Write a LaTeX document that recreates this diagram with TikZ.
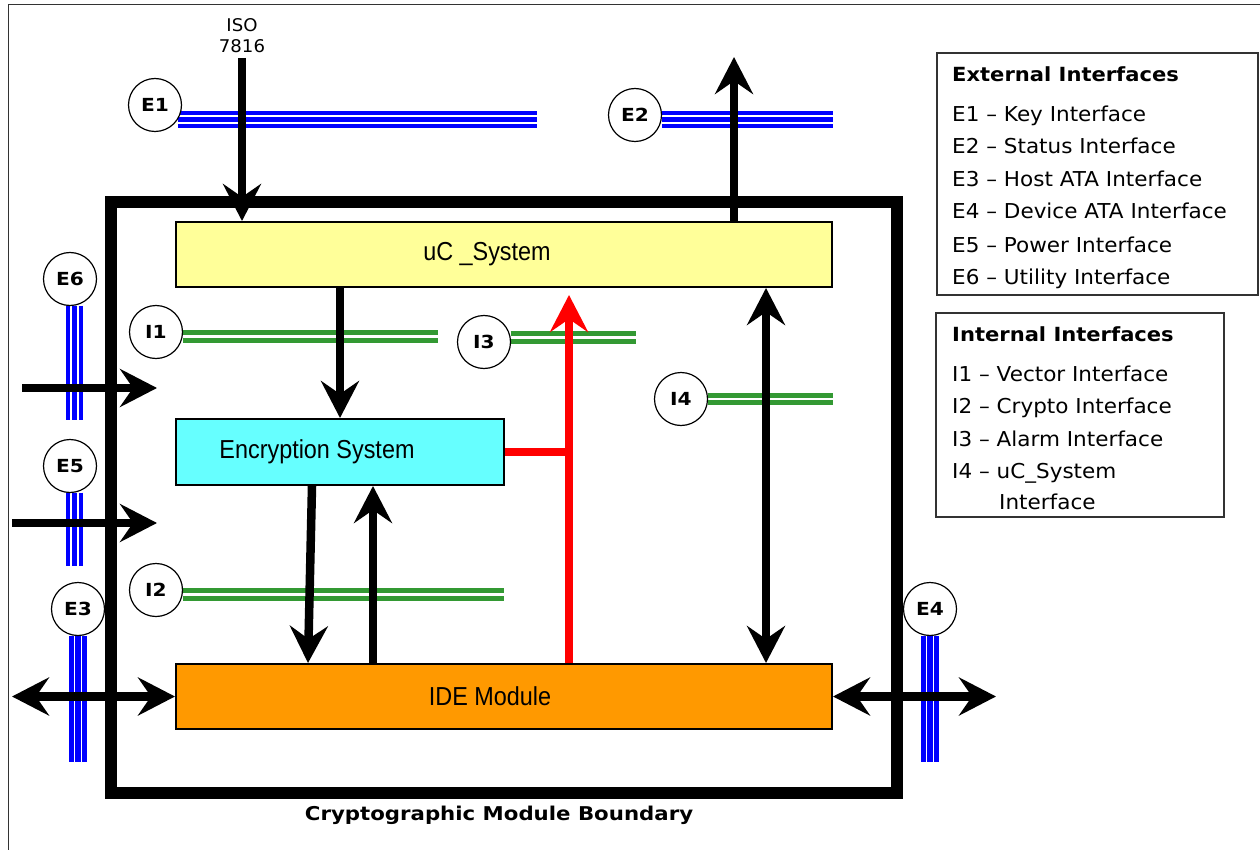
\documentclass[tikz,border=0pt]{standalone}
\usepackage{fontspec}
\setmainfont{DejaVu Sans}
\newfontfamily\narrowfont[FakeStretch=0.9]{Liberation Sans}
\newfontfamily\vfont[FakeStretch=1.035]{DejaVu Sans}
\newfontfamily\legfont[FakeStretch=1.05]{DejaVu Sans}
\newfontfamily\vboldfam[FakeStretch=1.12]{DejaVu Sans}
\newfontfamily\headfam[FakeStretch=1.08]{DejaVu Sans}
\usetikzlibrary{arrows.meta,backgrounds}
\definecolor{ucyellow}{HTML}{FFFF99}
\definecolor{enccyan}{HTML}{66FFFF}
\definecolor{ideorange}{HTML}{FF9900}
\definecolor{ifgreen}{HTML}{339933}
\definecolor{ifblue}{HTML}{0000FF}
\definecolor{alarmred}{HTML}{FF0000}
\tikzset{
  blockbox/.style={draw=black, line width=2pt, inner sep=0pt, font=\narrowfont\fontsize{26}{28}\selectfont},
  badge/.style={circle, draw=black, line width=1.2pt, fill=white, minimum size=53pt, inner sep=0pt, font=\vboldfam\bfseries\fontsize{18}{18}\selectfont},
  bigtip/.tip={Stealth[length=37pt, width=38pt, inset=13pt]},
  flow/.style={line width=8.5pt, -bigtip},
  bidir/.style={line width=8.5pt, bigtip-bigtip},
  redflow/.style={line width=8pt, draw=alarmred, -{Stealth[length=37pt, width=38pt, inset=13pt, color=alarmred]}},
  redline/.style={line width=8pt, draw=alarmred},
  ebusbase/.style={draw=ifblue, line width=17.5pt},
  ebustop/.style={draw=white, line width=1.5pt, double=ifblue, double distance=5.5pt},
  ibus/.style={draw=ifgreen, line width=5pt, double=white, double distance=2.5pt},
  legendbox/.style={draw=black!80, line width=1.3pt, inner sep=0pt},
  legtext/.style={anchor=base west, inner sep=0pt, font=\legfont\fontsize{20.5}{24}\selectfont},
  leghead/.style={anchor=base west, inner sep=0pt, font=\headfam\bfseries\fontsize{19.5}{22}\selectfont},
}
\begin{document}
\begin{tikzpicture}[x=1pt,y=-1pt]
\useasboundingbox (0,0) rectangle (1260,850);
% outer frame
\draw[line width=1pt, black!80] (8,850) -- (8,5) -- (1260,5);

% module boundary
\node[draw=black, line width=12pt, minimum width=786pt, minimum height=591pt, inner sep=0pt] (boundary) at (504,497.5) {};
\node[font=\vboldfam\bfseries\fontsize{19}{22}\selectfont, inner sep=0pt] (blabel) at (499,815) {Cryptographic Module Boundary};

% blocks
\node[blockbox, fill=ucyellow, minimum width=656pt, minimum height=65pt] (uc) at (504,254.5) {uC \_System\hspace*{34pt}};
\node[blockbox, fill=enccyan, minimum width=328pt, minimum height=66pt] (enc) at (340,452) {Encryption System\hspace*{46pt}};
\node[blockbox, fill=ideorange, minimum width=656pt, minimum height=65pt] (ide) at (504,696.5) {IDE Module\hspace*{28pt}};

% interface badges
\node[badge] (e1) at (155,105) {E1};
\node[badge] (e2) at (635,115) {E2};
\node[badge] (e6) at (70,279) {E6};
\node[badge] (e5) at (70,466) {E5};
\node[badge] (e3) at (78,609) {E3};
\node[badge] (e4) at (930,609) {E4};
\node[badge] (i1) at (156,332) {I1};
\node[badge] (i2) at (156,590) {I2};
\node[badge] (i3) at (484,342) {I3};
\node[badge] (i4) at (681,399) {I4};

% interface buses (behind)
\begin{scope}[on background layer]
  \foreach \a/\d in {e1.-32/{++(359,0)}, e2.-10/{++(171,0)}, e6.-80/{++(0,114)}, e5.-80/{++(0,73)}, e3.south/{++(0,126)}, e4.south/{++(0,126)}} {
    \draw[ebusbase] (\a) -- \d;
    \draw[ebustop] (\a) -- \d;
  }
  \draw[ibus] (i1.-10) -- ++(255.4,0);
  \draw[ibus] (i2.-10) -- ++(321.4,0);
  \draw[ibus] (i3.10) -- ++(125.4,0);
  \draw[ibus] (i4.east) -- ++(125,0);
\end{scope}

% ISO 7816 input
\node[font=\vfont\fontsize{17.5}{21.5}\selectfont, align=center, inner sep=0pt] (iso) at (242,35.5) {ISO\\7816};
\coordinate (isotop) at (242,58);
\draw[flow] (isotop) -- (isotop |- uc.north);

% status output
\coordinate (e2tip) at (734,57);
\draw[flow] (e2tip |- uc.north) -- (e2tip);

% uC -> encryption
\draw[flow] (uc.south -| enc.north) -- (enc.north);

% encryption <-> IDE
\coordinate (encdn) at ([xshift=-28pt]enc.south);
\coordinate (idedn) at ([xshift=-32pt]ide.north -| enc.south);
\draw[flow] (encdn) -- (idedn);
\coordinate (encup) at ([xshift=33pt]enc.south);
\draw[flow] (encup |- ide.north) -- (encup);

% alarm (red)
\coordinate (redtip) at (569,295);
\draw[redline] (enc.east) -- (enc.east -| redtip);
\draw[redflow] (redtip |- ide.north) -- (redtip);

% uC <-> IDE
\coordinate (i4x) at (766,0);
\draw[bidir] (i4x |- uc.south) -- (i4x |- ide.north);

% power / utility
\coordinate (e6s) at (22,388);
\coordinate (e6t) at (157,388);
\draw[flow] (e6s) -- (e6t);
\coordinate (e5s) at (12,523);
\coordinate (e5t) at (157,523);
\draw[flow] (e5s) -- (e5t);

% ATA
\coordinate (hostend) at (12,696.5);
\draw[bidir] (hostend) -- (ide.west);
\coordinate (devend) at (996,696.5);
\draw[bidir] (ide.east) -- (devend);

% legends
\node[legendbox, minimum width=321pt, minimum height=242pt] (legext) at (1097.5,174) {};
\node[leghead] (lx0) at (952,81.5) {External Interfaces};
\node[legtext] (lx1) at (952,121.5) {E1 – Key Interface};
\node[legtext] (lx2) at (952,154) {E2 – Status Interface};
\node[legtext] (lx3) at (952,186.5) {E3 – Host ATA Interface};
\node[legtext] (lx4) at (952,219) {E4 – Device ATA Interface};
\node[legtext] (lx5) at (952,252) {E5 – Power Interface};
\node[legtext] (lx6) at (952,284.5) {E6 – Utility Interface};

\node[legendbox, minimum width=288pt, minimum height=204pt] (legint) at (1080,415) {};
\node[leghead] (li0) at (952,341) {Internal Interfaces};
\node[legtext] (li1) at (952,381) {I1 – Vector Interface};
\node[legtext] (li2) at (952,413.5) {I2 – Crypto Interface};
\node[legtext] (li3) at (952,446) {I3 – Alarm Interface};
\node[legtext] (li4) at (952,478.5) {I4 – uC\_System};
\node[legtext] (li5) at (999,509) {Interface};
\end{tikzpicture}
\end{document}
